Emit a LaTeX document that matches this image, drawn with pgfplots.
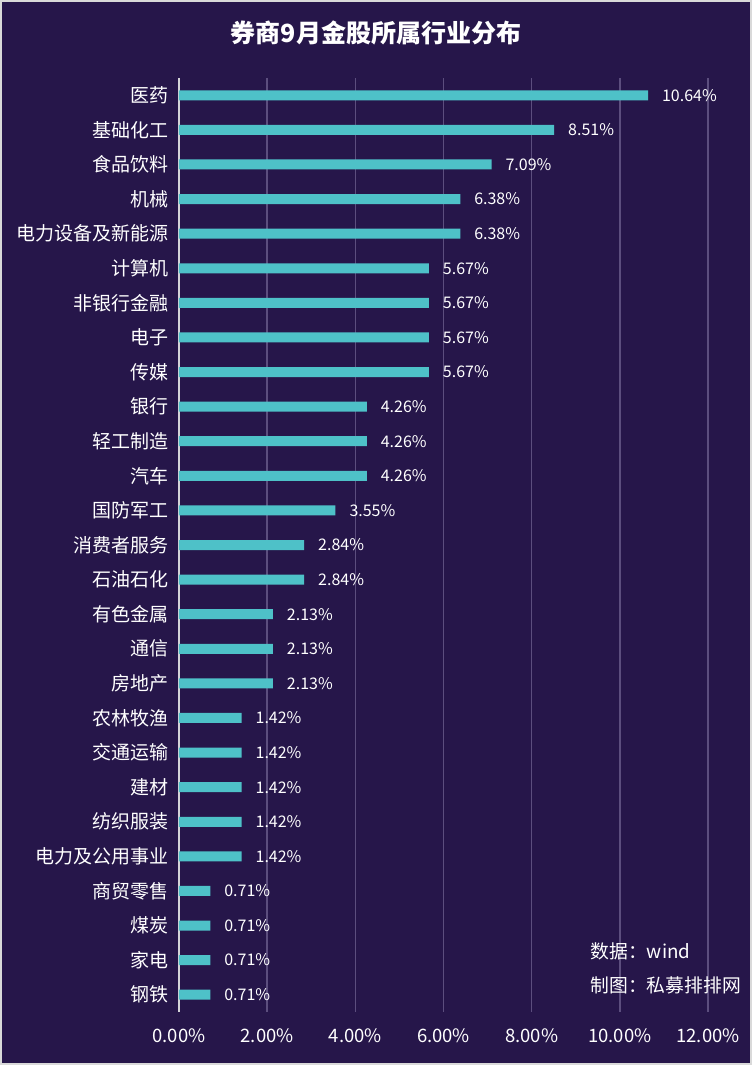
\documentclass[border=0pt]{standalone}
\usepackage{fontspec}
\setmainfont{Noto Sans CJK SC}
\usepackage{pgfplots}
\pgfplotsset{compat=1.18}
\definecolor{bg}{HTML}{26164A}
\definecolor{bar}{HTML}{4EC1C8}
\definecolor{gridc}{HTML}{5C4E7E}
\definecolor{zeroc}{HTML}{D4D4D8}
\definecolor{framec}{HTML}{D9D9D9}
\begin{document}
\begin{tikzpicture}
\fill[bg] (0pt,0pt) rectangle (752pt,1065pt);
\draw[framec,line width=2pt] (1pt,1pt) rectangle (751pt,1064pt);
\useasboundingbox (0pt,0pt) rectangle (752pt,1065pt);
\node[white,font=\fontsize{25}{28}\selectfont\bfseries] at (376pt,1032pt) {券商9月金股所属行业分布};
\begin{axis}[
  at={(179pt,53pt)}, anchor=south west,
  scale only axis, width=529pt, height=934pt,
  xbar, bar width=10pt,
  xmin=0, xmax=12, ymin=-0.5, ymax=26.5, y dir=reverse,
  axis line style={draw=none},
  major tick length=0,
  xtick={2,4,6,8,10,12},
  extra x ticks={0},
  extra x tick style={grid style={draw=zeroc,line width=2pt}},
  xmajorgrids, grid style={draw=gridc,line width=1.5pt},
  xticklabel={\pgfmathprintnumber[fixed,fixed zerofill,precision=2]{\tick}\%},
  xticklabel style={font=\fontsize{18.5}{20}\selectfont, text=white, yshift=-13pt},
  /pgf/number format/assume math mode=true,
  ytick={0,...,26},
  yticklabels={医药,基础化工,食品饮料,机械,电力设备及新能源,计算机,非银行金融,电子,传媒,银行,轻工制造,汽车,国防军工,消费者服务,石油石化,有色金属,通信,房地产,农林牧渔,交通运输,建材,纺织服装,电力及公用事业,商贸零售,煤炭,家电,钢铁},
  yticklabel style={font=\fontsize{19}{21}\selectfont, text=white, xshift=-7pt},
  nodes near coords={\pgfmathprintnumber[fixed,fixed zerofill,precision=2]{\pgfplotspointmeta}\%},
  nodes near coords style={font=\fontsize{16}{18}\selectfont, text=white, anchor=west, xshift=10.5pt},
  clip=false,
]
\addplot[fill=bar, draw=none] coordinates {
(10.64,0) (8.51,1) (7.09,2) (6.38,3) (6.38,4) (5.67,5) (5.67,6) (5.67,7) (5.67,8)
(4.26,9) (4.26,10) (4.26,11) (3.55,12) (2.84,13) (2.84,14) (2.13,15) (2.13,16) (2.13,17)
(1.42,18) (1.42,19) (1.42,20) (1.42,21) (1.42,22) (0.71,23) (0.71,24) (0.71,25) (0.71,26)};
\end{axis}
\node[white,anchor=west,font=\fontsize{18.8}{21}\selectfont] at (587pt,114pt) {数据：wind};
\node[white,anchor=west,font=\fontsize{18.8}{21}\selectfont] at (587pt,80pt) {制图：私募排排网};
\end{tikzpicture}
\end{document}
